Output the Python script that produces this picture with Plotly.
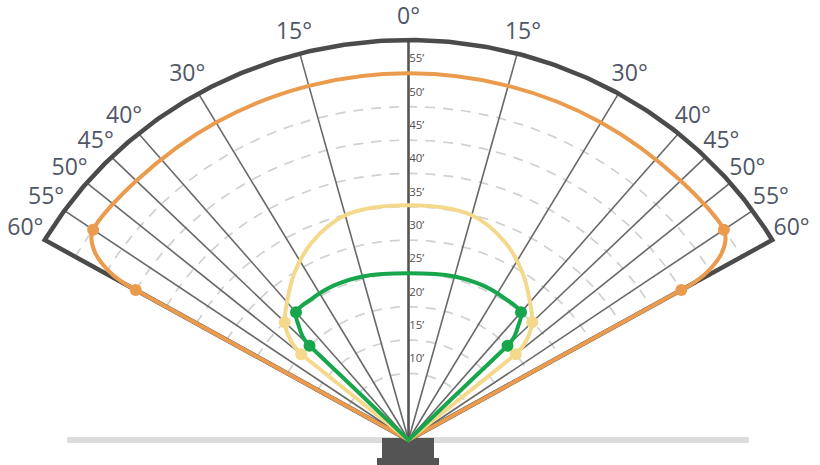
import numpy as np
import plotly.graph_objects as go

# ---------------- data ----------------
angle_ticks = [0, 15, 30, 40, 45, 50, 55, 60]
angle_labels = ["0°", "15°", "30°", "40°", "45°", "50°", "55°", "60°"]
radial_ticks = [10, 15, 20, 25, 30, 35, 40, 45, 50, 55]
radial_labels = ["10’", "15’", "20’", "25’", "30’", "35’", "40’", "45’", "50’", "55’"]
grid_radii = [10, 15, 20, 25, 30, 35, 40, 45, 50, 55]
max_range = 60
max_angle = 60

# coverage outlines (half profile, mirrored left/right), angle in degrees, range in feet
orange_theta = [0, 15, 30, 45, 55, 56.5, 58, 59.3, 59.9, 60]
orange_r = [55, 55, 55, 55, 55, 54.3, 52.7, 50, 47.5, 45]
orange_marker_theta = [55, 60]
orange_marker_r = [55, 45]

yellow_theta = [0, 15, 25, 33, 40, 45, 47.8, 49.3, 50]
yellow_r = [35.2, 34.9, 32.7, 29.9, 27.0, 25, 23.1, 21.5, 20]
yellow_marker_theta = [45, 50]
yellow_marker_r = [25, 20]

green_theta = [0, 15, 25, 33, 40, 42.5, 44.3, 45]
green_r = [25, 25.4, 25.5, 25.3, 25, 23.2, 21.6, 20]
green_marker_theta = [40, 45]
green_marker_r = [25, 20]

# ---------------- styling ----------------
ORANGE = "#EA9B4D"
YELLOW = "#F4D98C"
GREEN = "#17A64B"
FRAME = "#4B4B4B"
SPOKE = "#686868"
DASH = "#D0D0D0"
LABEL = "#4F5667"
RLABEL = "#55504C"
FONT = "Open Sans"

W, H = 820, 465
# stage geometry in pixels (origin at bottom centre)
OX, OY = 408.5, 440.0
PX_Y = 400.0 / max_range      # px per foot vertically
PX_X = PX_Y * 1.05            # px per foot horizontally


def to_xy(theta, r):
    t = np.radians(np.asarray(theta, dtype=float))
    r = np.asarray(r, dtype=float)
    return r * np.sin(t), r * np.cos(t)


def mirror(theta, r):
    th = [-t for t in reversed(theta)] + list(theta[1:])
    rr = list(reversed(r)) + list(r[1:])
    return th, rr


fig = go.Figure()

# dashed range rings
for rad in grid_radii:
    th = np.linspace(-max_angle, max_angle, 121)
    x, y = to_xy(th, np.full_like(th, rad))
    fig.add_trace(go.Scatter(x=x, y=y, mode="lines",
                             line=dict(color=DASH, width=1.7, dash="10px,8px"),
                             hoverinfo="skip"))

# angular spokes
for a in angle_ticks:
    if a in (0, max_angle):
        continue
    for s in (-1, 1):
        x, y = to_xy([s * a, s * a], [0, max_range])
        fig.add_trace(go.Scatter(x=x, y=y, mode="lines",
                                 line=dict(color=SPOKE, width=1.6),
                                 hoverinfo="skip"))

# centre axis
x, y = to_xy([0, 0], [0, max_range])
fig.add_trace(go.Scatter(x=x, y=y, mode="lines",
                         line=dict(color="#555555", width=2.6), hoverinfo="skip"))

# outer frame
th = np.linspace(-max_angle, max_angle, 241)
fx, fy = to_xy(th, np.full_like(th, max_range))
fx = np.concatenate([[0], fx, [0]])
fy = np.concatenate([[0], fy, [0]])
fig.add_trace(go.Scatter(x=fx, y=fy, mode="lines",
                         line=dict(color=FRAME, width=4.5), hoverinfo="skip"))

# coverage series
series = [
    (orange_theta, orange_r, orange_marker_theta, orange_marker_r, ORANGE),
    (yellow_theta, yellow_r, yellow_marker_theta, yellow_marker_r, YELLOW),
    (green_theta, green_r, green_marker_theta, green_marker_r, GREEN),
]
for th_half, r_half, mth, mr, col in series:
    # straight edges from sensor to outermost side points
    ex, ey = to_xy([-th_half[-1], 0, th_half[-1]], [r_half[-1], 0, r_half[-1]])
    fig.add_trace(go.Scatter(x=ex, y=ey, mode="lines",
                             line=dict(color=col, width=4), hoverinfo="skip"))
    # curved outline
    th_full, r_full = mirror(th_half, r_half)
    cx, cy = to_xy(th_full, r_full)
    fig.add_trace(go.Scatter(x=cx, y=cy, mode="lines",
                             line=dict(color=col, width=4, shape="spline", smoothing=1),
                             hoverinfo="skip"))
    # markers
    mth_full = [-t for t in mth] + list(mth)
    mr_full = list(mr) + list(mr)
    px_, py_ = to_xy(mth_full, mr_full)
    fig.add_trace(go.Scatter(x=px_, y=py_, mode="markers",
                             marker=dict(color=col, size=12, line=dict(width=0)),
                             hoverinfo="skip"))

# radial labels
fig.add_trace(go.Scatter(x=[0.1] * len(radial_ticks),
                         y=[v + 2.1 for v in radial_ticks],
                         mode="text", text=radial_labels,
                         textposition="middle right",
                         textfont=dict(family=FONT, size=11.5, color=RLABEL),
                         hoverinfo="skip"))

# angular labels
lab_th, lab_txt = [], []
for a, t in zip(angle_ticks, angle_labels):
    if a == 0:
        lab_th.append(0); lab_txt.append(t)
    else:
        lab_th += [-a, a]; lab_txt += [t, t]
lx, ly = to_xy(lab_th, [63.2] * len(lab_th))
fig.add_trace(go.Scatter(x=lx, y=ly, mode="text", text=lab_txt,
                         textposition="middle center", cliponaxis=False,
                         textfont=dict(family=FONT, size=23, color=LABEL),
                         hoverinfo="skip"))


# ground line and sensor body (decoration, paper coords from pixels)
def px(xp):
    return xp / W


def py(yp):
    return 1 - yp / H


fig.add_shape(type="rect", xref="paper", yref="paper", layer="below",
              x0=px(67), x1=px(749), y0=py(443), y1=py(437),
              fillcolor="#DCDCDC", line=dict(width=0))
fig.add_shape(type="rect", xref="paper", yref="paper", layer="below",
              x0=px(382), x1=px(434), y0=py(460), y1=py(438),
              fillcolor="#545454", line=dict(width=0))
fig.add_shape(type="rect", xref="paper", yref="paper", layer="below",
              x0=px(377), x1=px(439), y0=py(465), y1=py(458),
              fillcolor="#545454", line=dict(width=0))

fig.update_layout(
    width=W, height=H,
    margin=dict(l=0, r=0, t=0, b=0),
    paper_bgcolor="white", plot_bgcolor="white",
    showlegend=False, hovermode=False,
    xaxis=dict(range=[-OX / PX_X, (W - OX) / PX_X], visible=False, fixedrange=True),
    yaxis=dict(range=[-(H - OY) / PX_Y, OY / PX_Y], visible=False, fixedrange=True),
)

fig.write_html("out.html", config={"displayModeBar": False},
               post_script="document.body.style.margin='0';")
